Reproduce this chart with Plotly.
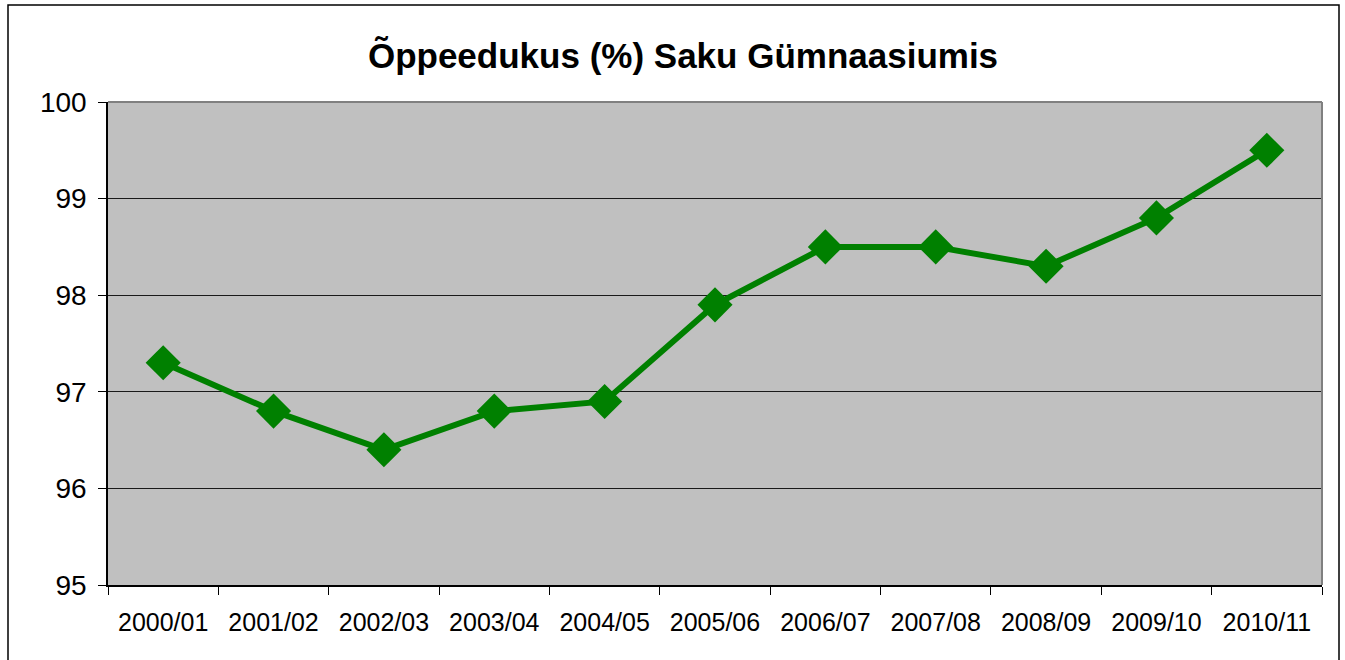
import plotly.graph_objs as go

# school years and pass rate (%)
years = ['2000/01', '2001/02', '2002/03', '2003/04', '2004/05', '2005/06',
         '2006/07', '2007/08', '2008/09', '2009/10', '2010/11']
pass_rate = [97.3, 96.8, 96.4, 96.8, 96.9, 97.9, 98.5, 98.5, 98.3, 98.8, 99.5]
y_ticks = [95, 96, 97, 98, 99, 100]

W, H = 1345, 660
L, R, T, B = 108, 1322, 102, 585
pw, ph = R - L, B - T

trace = go.Scatter(
    x=years,
    y=pass_rate,
    mode='lines+markers',
    line=dict(color='#008000', width=6),
    marker=dict(symbol='diamond', size=27, color='#008000'),
    showlegend=False,
)

fig = go.Figure(trace)

fig.layout.update(go.Layout(
    width=W,
    height=H,
    margin=dict(l=L, r=W - R, t=T, b=H - B, pad=0),
    paper_bgcolor='white',
    plot_bgcolor='#C0C0C0',
    font=dict(family='Liberation Sans, Arial, sans-serif', color='black'),
    title=dict(
        text='<b>Õppeedukus (%) Saku Gümnaasiumis</b>',
        x=683 / W, xanchor='center', y=1 - 56 / H, yanchor='middle',
        font=dict(size=35, color='black'),
    ),
    xaxis=dict(
        type='category',
        tickson='boundaries',
        ticks='outside',
        ticklen=8,
        tickcolor='black',
        showline=True,
        linecolor='black',
        linewidth=1.5,
        showgrid=False,
        tickfont=dict(size=25),
        ticklabelstandoff=14,
        range=[-0.5, len(years) - 0.5],
    ),
    yaxis=dict(
        range=[95, 100],
        tickvals=y_ticks,
        ticks='outside',
        ticklen=8,
        tickcolor='black',
        showline=True,
        linecolor='black',
        linewidth=1.5,
        showgrid=True,
        gridcolor='#1a1a1a',
        gridwidth=1.2,
        zeroline=False,
        tickfont=dict(size=28),
        ticklabelstandoff=6,
    ),
))

# gray top/right edge of the plot area
fig.add_shape(type='line', xref='paper', yref='paper', x0=0, x1=1, y0=1, y1=1,
              line=dict(color='#808080', width=2))
fig.add_shape(type='line', xref='paper', yref='paper', x0=1, x1=1, y0=0, y1=1,
              line=dict(color='#808080', width=2))

# outer chart border
fig.add_shape(type='rect', xref='paper', yref='paper',
              x0=(8 - L) / pw, x1=(1339 - L) / pw,
              y0=(B - 670) / ph, y1=(B - 5) / ph,
              line=dict(color='black', width=1.5), layer='below')

# page has a default 8px body margin; remove it so the chart sits at 0,0
fig.write_html('out.html', config={'displayModeBar': False},
               post_script="document.body.style.margin='0';")
